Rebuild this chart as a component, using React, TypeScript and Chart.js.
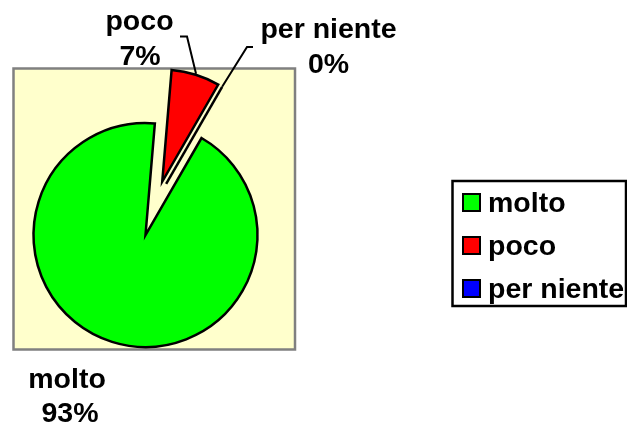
import React, { useEffect, useRef } from "react";
import { Chart, registerables } from "chart.js";

Chart.register(...registerables);

// ---- data ----
const categories = ["molto", "poco", "per niente"];
const values = [93, 7, 0];
const sliceColors = ["#00FF00", "#FF0000", "#0000FF"];
const explodeOffsets = [0, 56, 56];

const FONT = 'bold 28.5px "Liberation Sans", Arial, sans-serif';

export default function App() {
  const ref = useRef<HTMLCanvasElement | null>(null);

  useEffect(() => {
    document.body.style.margin = "0";
    const canvas = ref.current;
    if (!canvas) return;
    const total = values.reduce((a, b) => a + b, 0);
    const pct = (i: number) => Math.round((values[i] / total) * 100) + "%";

    const plotBg = {
      id: "plotBg",
      beforeDraw(chart: any) {
        const ctx = chart.ctx;
        ctx.save();
        ctx.fillStyle = "#FFFFCC";
        ctx.fillRect(13.5, 68.5, 281.5, 281);
        ctx.strokeStyle = "#808080";
        ctx.lineWidth = 2.5;
        ctx.strokeRect(13.5, 68.5, 281.5, 281);
        ctx.restore();
      },
    };

    const explode = {
      id: "explode",
      afterDatasetUpdate(chart: any, args: any) {
        const meta = chart.getDatasetMeta(args.index);
        let prev: any = null;
        meta.data.forEach((arc: any, i: number) => {
          const circ = arc.endAngle - arc.startAngle;
          if (circ > 0) {
            const mid = (arc.startAngle + arc.endAngle) / 2;
            arc.x += Math.cos(mid) * explodeOffsets[i];
            arc.y += Math.sin(mid) * explodeOffsets[i];
          } else if (prev && explodeOffsets[i]) {
            const a = arc.startAngle;
            arc.x = prev.x - Math.sin(a) * 4.5;
            arc.y = prev.y + Math.cos(a) * 4.5;
          }
          prev = arc;
        });
      },
    };

    const labels = {
      id: "labels",
      afterDatasetsDraw(chart: any) {
        const ctx = chart.ctx;
        const meta = chart.getDatasetMeta(0);
        ctx.save();
        ctx.strokeStyle = "#000";
        ctx.lineWidth = 2.5;
        ctx.lineJoin = "miter";
        // zero-valued slices drawn as a radial line
        meta.data.forEach((arc: any, i: number) => {
          if (values[i] === 0) {
            const a = arc.startAngle;
            const r = arc.outerRadius;
            ctx.beginPath();
            ctx.moveTo(arc.x, arc.y);
            ctx.lineTo(arc.x + Math.cos(a) * r, arc.y + Math.sin(a) * r);
            ctx.stroke();
          }
        });
        // leader lines
        const p = meta.data[1];
        const pm = (p.startAngle + p.endAngle) / 2;
        ctx.lineWidth = 2;
        ctx.beginPath();
        ctx.moveTo(p.x + Math.cos(pm) * (p.outerRadius + 1), p.y + Math.sin(pm) * (p.outerRadius + 1));
        ctx.lineTo(187, 36.5);
        ctx.lineTo(180, 36.5);
        ctx.stroke();
        const z = meta.data[2];
        ctx.beginPath();
        ctx.moveTo(z.x + Math.cos(z.startAngle) * z.outerRadius, z.y + Math.sin(z.startAngle) * z.outerRadius);
        ctx.lineTo(247, 47);
        ctx.lineTo(253, 47);
        ctx.stroke();

        // data labels
        ctx.fillStyle = "#000";
        ctx.font = FONT;
        ctx.textAlign = "center";
        ctx.textBaseline = "alphabetic";
        ctx.fillText(categories[1], 139.5, 30);
        ctx.fillText(pct(1), 140, 65);
        ctx.fillText(categories[2], 328.5, 38);
        ctx.fillText(pct(2), 328.5, 73);
        ctx.fillText(categories[0], 67, 388);
        ctx.fillText(pct(0), 70, 421.5);

        // legend
        ctx.lineWidth = 2.5;
        ctx.strokeStyle = "#000";
        ctx.strokeRect(452.5, 181, 173.5, 125);
        ctx.textAlign = "left";
        categories.forEach((c, i) => {
          const base = 212 + i * 43;
          ctx.fillStyle = sliceColors[i];
          ctx.fillRect(463, base - 18, 17, 17);
          ctx.lineWidth = 2;
          ctx.strokeRect(463, base - 18, 17, 17);
          ctx.fillStyle = "#000";
          ctx.fillText(c, 488, base);
        });
        ctx.restore();
      },
    };

    const chart = new Chart(canvas, {
      type: "pie",
      data: {
        labels: categories,
        datasets: [
          {
            data: values,
            backgroundColor: sliceColors,
            borderColor: "#000",
            borderWidth: 2.5,
            borderJoinStyle: "miter",
          } as any,
        ],
      },
      options: {
        responsive: false,
        maintainAspectRatio: false,
        devicePixelRatio: 1,
        animation: false,
        events: [],
        rotation: 30,
        radius: 112,
        layout: { padding: { left: 0, right: 336, top: 45, bottom: 0 } },
        plugins: {
          legend: { display: false },
          tooltip: { enabled: false },
        },
      } as any,
      plugins: [plotBg, explode, labels],
    });
    return () => chart.destroy();
  }, []);

  return (
    <div style={{ width: 627, height: 425 }}>
      <canvas ref={ref} width={627} height={425} style={{ display: "block" }} />
    </div>
  );
}
